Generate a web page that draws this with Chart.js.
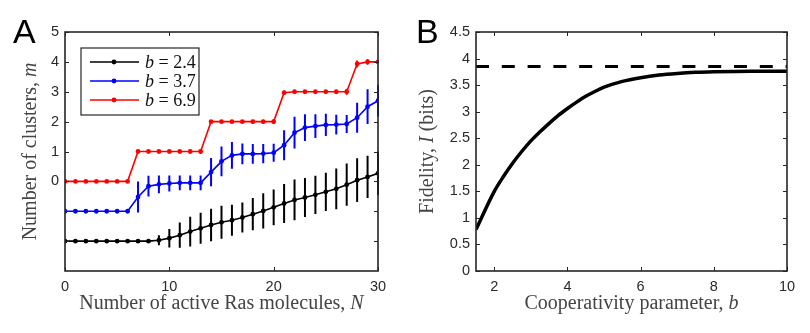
<!DOCTYPE html>
<html>
<head>
<meta charset="utf-8">
<script src="https://cdn.jsdelivr.net/npm/chart.js@4.4.0/dist/chart.umd.min.js"></script>
<style>
  body { margin: 0; background: #fff; width: 810px; height: 333px; position: relative; overflow: hidden; }
  .panel { position: absolute; top: 0; width: 405px; height: 333px; }
  #wrapA { left: 0; }
  #wrapB { left: 405px; }
</style>
</head>
<body>
<div class="panel" id="wrapA"><canvas id="chartA" width="405" height="333"></canvas></div>
<div class="panel" id="wrapB"><canvas id="chartB" width="405" height="333"></canvas></div>
<script>
// Panel A data: number of active Ras molecules N = 0..30
const rasN = [0,1,2,3,4,5,6,7,8,9,10,11,12,13,14,15,16,17,18,19,20,21,22,23,24,25,26,27,28,29,30];

// values as they sit on the shifted y axis (curves are stacked apart)
const clustersB24 = [-2,-2,-2,-2,-2,-2,-2,-2,-2,-1.97,-1.9,-1.8,-1.68,-1.57,-1.46,-1.37,-1.3,-1.21,-1.1,-0.99,-0.87,-0.74,-0.62,-0.54,-0.45,-0.35,-0.25,-0.11,0.04,0.15,0.27];
const errB24 = [0,0,0,0,0,0,0,0,0.05,0.17,0.31,0.42,0.5,0.52,0.54,0.55,0.52,0.5,0.54,0.59,0.6,0.65,0.68,0.65,0.64,0.64,0.68,0.71,0.73,0.71,0.73];

const clustersB37 = [-1,-1,-1,-1,-1,-1,-1,-0.52,-0.16,-0.1,-0.07,-0.05,-0.05,-0.05,0.31,0.67,0.87,0.92,0.92,0.93,0.96,1.21,1.63,1.8,1.85,1.89,1.9,1.92,2.13,2.5,2.7];
const errB37 = [0,0,0,0,0,0,0,0.52,0.35,0.3,0.27,0.25,0.25,0.25,0.47,0.5,0.45,0.35,0.33,0.32,0.3,0.5,0.53,0.45,0.4,0.37,0.33,0.3,0.5,0.58,0.53];

const clustersB69 = [0,0,0,0,0,0,0,1,1,1,1,1,1,1,2,2,2,2,2,2,2,2.97,3,3,3,3,3,3,3.93,4,4];
const errB69 = [0,0,0,0,0,0,0,0.04,0.04,0.04,0.04,0.04,0.06,0.08,0.04,0.04,0.04,0.04,0.06,0.06,0.08,0.06,0.04,0.04,0.04,0.04,0.06,0.1,0.12,0.1,0.05];

const seriesLabels = ['2.4', '3.7', '6.9'];
const seriesColors = ['#000000', '#0000ff', '#ff0000'];

const xTicksA = [0, 10, 20, 30];
const yTicksA = [-2, -1, 0, 1, 2, 3, 4, 5];
const yLabelsA = ['', '', '0', '1', '2', '3', '4', '5'];

// Panel B data: fidelity vs cooperativity parameter b
const coopB = [1.5, 2.0, 2.25, 2.5, 2.75, 3.0, 3.25, 3.5, 3.75, 4.0, 4.25, 4.5, 4.75, 5.0, 5.5, 6.0, 6.5, 7.0, 7.5, 8.0, 9.0, 10.0];
const fidelity = [0.78, 1.5, 1.78, 2.03, 2.25, 2.45, 2.62, 2.78, 2.93, 3.06, 3.18, 3.29, 3.38, 3.46, 3.57, 3.64, 3.69, 3.72, 3.74, 3.75, 3.76, 3.76];
const maxFidelity = 3.85;

const xTicksB = [2, 4, 6, 8, 10];
const yTicksB = [0, 0.5, 1, 1.5, 2, 2.5, 3, 3.5, 4, 4.5];

// shared look
const tickFont = { family: 'Liberation Sans, Arial, sans-serif', size: 14.5 };
const tickColor = '#2a2a2a';
const titleColor = '#444444';
const serif = 'Liberation Serif, Times New Roman, serif';

function xy(xs, ys) {
    return xs.map((x, i) => ({ x: x, y: ys[i] }));
}

// draws text made of plain and italic parts, centred on (x, y)
function drawMixed(ctx, parts, x, y, size) {
    let total = 0;
    parts.forEach(p => {
        ctx.font = (p.i ? 'italic ' : '') + size + 'px ' + serif;
        total += ctx.measureText(p.t).width;
    });
    let cx = x - total / 2;
    ctx.textAlign = 'left';
    ctx.textBaseline = 'middle';
    parts.forEach(p => {
        ctx.font = (p.i ? 'italic ' : '') + size + 'px ' + serif;
        ctx.fillText(p.t, cx, y);
        cx += ctx.measureText(p.t).width;
    });
}

// MATLAB style box with inward ticks on all four sides
const boxPlugin = {
    id: 'box',
    afterDraw(chart) {
        const { ctx, chartArea: a, scales } = chart;
        ctx.save();
        ctx.strokeStyle = '#262626';
        ctx.lineWidth = 1;
        const tl = 4;
        ctx.beginPath();
        scales.x.ticks.forEach(t => {
            const px = Math.round(scales.x.getPixelForValue(t.value)) + 0.5;
            ctx.moveTo(px, a.bottom); ctx.lineTo(px, a.bottom - tl);
            ctx.moveTo(px, a.top); ctx.lineTo(px, a.top + tl);
        });
        scales.y.ticks.forEach(t => {
            const py = Math.round(scales.y.getPixelForValue(t.value)) + 0.5;
            ctx.moveTo(a.left, py); ctx.lineTo(a.left + tl, py);
            ctx.moveTo(a.right, py); ctx.lineTo(a.right - tl, py);
        });
        ctx.stroke();
        ctx.lineWidth = 1.6;
        ctx.strokeRect(a.left, a.top, a.right - a.left, a.bottom - a.top);
        ctx.restore();
    }
};

// vertical error bars from each dataset's errors array
const errorBarPlugin = {
    id: 'errorBars',
    beforeDatasetsDraw(chart) {
        const { ctx, scales } = chart;
        ctx.save();
        chart.data.datasets.forEach(ds => {
            if (!ds.errors) return;
            ctx.strokeStyle = ds.borderColor;
            ctx.lineWidth = 2;
            ctx.beginPath();
            ds.data.forEach((p, i) => {
                const e = ds.errors[i];
                if (!e) return;
                const px = scales.x.getPixelForValue(p.x);
                ctx.moveTo(px, scales.y.getPixelForValue(p.y - e));
                ctx.lineTo(px, scales.y.getPixelForValue(p.y + e));
            });
            ctx.stroke();
        });
        ctx.restore();
    }
};

// titles, panel letter and legend
const labelsPlugin = {
    id: 'labels',
    afterDraw(chart) {
        const o = chart.options.plugins.labels;
        const { ctx, chartArea: a } = chart;
        ctx.save();
        ctx.fillStyle = titleColor;
        drawMixed(ctx, o.xTitle, (a.left + a.right) / 2, 304, 20);
        ctx.save();
        ctx.translate(o.yTitleX, (a.top + a.bottom) / 2);
        ctx.rotate(-Math.PI / 2);
        drawMixed(ctx, o.yTitle, 0, 0, 20);
        ctx.restore();

        ctx.fillStyle = '#000';
        ctx.font = '34px Liberation Sans, Arial, sans-serif';
        ctx.textAlign = 'left';
        ctx.textBaseline = 'alphabetic';
        ctx.fillText(o.letter, o.letterX, 43);

        if (o.legend) {
            const lx = 81, ly = 48, lw = 118, lh = 67;
            ctx.fillStyle = '#fff';
            ctx.fillRect(lx, ly, lw, lh);
            ctx.strokeStyle = '#262626';
            ctx.lineWidth = 1.2;
            ctx.strokeRect(lx, ly, lw, lh);
            seriesLabels.forEach((lab, i) => {
                const y = 62 + i * 19;
                ctx.strokeStyle = seriesColors[i];
                ctx.lineWidth = 1.6;
                ctx.beginPath();
                ctx.moveTo(90, y); ctx.lineTo(139, y);
                ctx.stroke();
                ctx.fillStyle = seriesColors[i];
                ctx.beginPath();
                ctx.arc(114, y, 2.4, 0, Math.PI * 2);
                ctx.fill();
                ctx.fillStyle = '#111';
                const parts = [{ t: 'b', i: true }, { t: ' = ' + lab, i: false }];
                ctx.font = 'italic 18px ' + serif;
                let w = ctx.measureText('b').width;
                ctx.font = '18px ' + serif;
                w += ctx.measureText(' = ' + lab).width;
                drawMixed(ctx, parts, 145 + w / 2, y + 1, 18);
            });
        }
        ctx.restore();
    }
};

function lineSet(ys, errs, color) {
    return {
        data: xy(rasN, ys),
        errors: errs,
        borderColor: color,
        backgroundColor: color,
        borderWidth: 1.6,
        pointRadius: 2.4,
        pointBorderWidth: 0,
        tension: 0
    };
}

new Chart(document.getElementById('chartA'), {
    type: 'line',
    data: {
        datasets: [
            lineSet(clustersB24, errB24, seriesColors[0]),
            lineSet(clustersB37, errB37, seriesColors[1]),
            lineSet(clustersB69, errB69, seriesColors[2])
        ]
    },
    options: {
        responsive: false,
        devicePixelRatio: 1,
        animation: false,
        layout: { padding: { top: 32, right: 27, left: 0, bottom: 0 } },
        plugins: {
            legend: { display: false },
            tooltip: { enabled: false },
            labels: {
                xTitle: [{ t: 'Number of active Ras molecules, ', i: false }, { t: 'N', i: true }],
                yTitle: [{ t: 'Number of clusters, ', i: false }, { t: 'm', i: true }],
                yTitleX: 31,
                letter: 'A',
                letterX: 13,
                legend: true
            }
        },
        scales: {
            x: {
                type: 'linear', min: 0, max: 30,
                grid: { display: false, drawTicks: false },
                border: { display: false },
                afterBuildTicks: s => { s.ticks = xTicksA.map(v => ({ value: v })); },
                afterFit: s => { s.height = 62; },
                ticks: { font: tickFont, color: tickColor, padding: 7, maxRotation: 0, callback: v => String(v) }
            },
            y: {
                min: -3, max: 5,
                grid: { display: false, drawTicks: false },
                border: { display: false },
                afterBuildTicks: s => { s.ticks = yTicksA.map(v => ({ value: v })); },
                afterFit: s => { s.width = 65; },
                ticks: { font: tickFont, color: tickColor, padding: 6, callback: v => yLabelsA[yTicksA.indexOf(v)] }
            }
        }
    },
    plugins: [errorBarPlugin, boxPlugin, labelsPlugin]
});

new Chart(document.getElementById('chartB'), {
    type: 'line',
    data: {
        datasets: [
            {
                data: xy([1.5, 10], [maxFidelity, maxFidelity]),
                borderColor: '#000',
                borderWidth: 3,
                borderDash: [13, 12.8],
                pointRadius: 0
            },
            {
                data: xy(coopB, fidelity),
                borderColor: '#000',
                borderWidth: 3.5,
                pointRadius: 0,
                cubicInterpolationMode: 'monotone'
            }
        ]
    },
    options: {
        responsive: false,
        devicePixelRatio: 1,
        animation: false,
        layout: { padding: { top: 32, right: 23, left: 0, bottom: 0 } },
        plugins: {
            legend: { display: false },
            tooltip: { enabled: false },
            labels: {
                xTitle: [{ t: 'Cooperativity parameter, ', i: false }, { t: 'b', i: true }],
                yTitle: [{ t: 'Fidelity, ', i: false }, { t: 'I', i: true }, { t: ' (bits)', i: false }],
                yTitleX: 23,
                letter: 'B',
                letterX: 11,
                legend: false
            }
        },
        scales: {
            x: {
                type: 'linear', min: 1.5, max: 10,
                grid: { display: false, drawTicks: false },
                border: { display: false },
                afterBuildTicks: s => { s.ticks = xTicksB.map(v => ({ value: v })); },
                afterFit: s => { s.height = 62; },
                ticks: { font: tickFont, color: tickColor, padding: 7, maxRotation: 0, callback: v => String(v) }
            },
            y: {
                min: 0, max: 4.5,
                grid: { display: false, drawTicks: false },
                border: { display: false },
                afterBuildTicks: s => { s.ticks = yTicksB.map(v => ({ value: v })); },
                afterFit: s => { s.width = 71; },
                ticks: { font: tickFont, color: tickColor, padding: 6, callback: v => String(v) }
            }
        }
    },
    plugins: [boxPlugin, labelsPlugin]
});
</script>
</body>
</html>
